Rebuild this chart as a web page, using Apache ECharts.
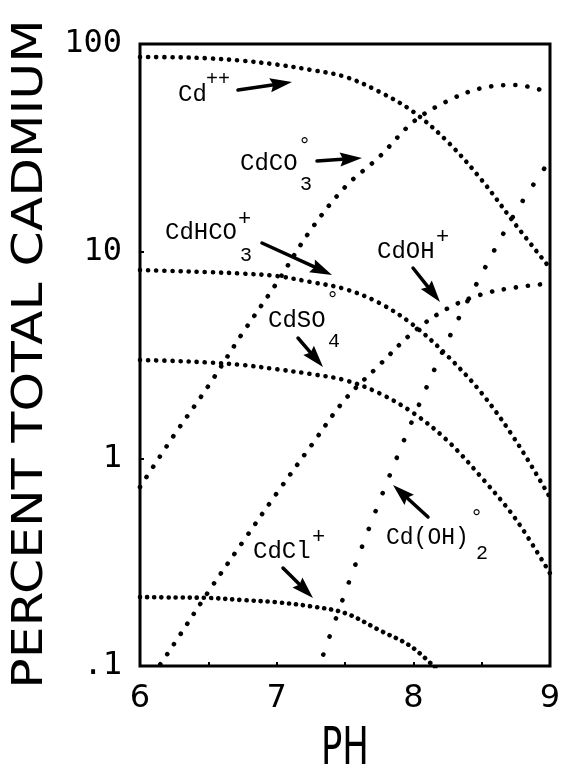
<!DOCTYPE html>
<html>
<head>
<meta charset="utf-8">
<script src="https://cdn.jsdelivr.net/npm/echarts@6/dist/echarts.min.js"></script>
<style>
html,body{margin:0;padding:0;background:#fff;}
#chart{width:566px;height:777px;}
</style>
</head>
<body>
<div id="chart"></div>
<script>
// ---- data (percent of total cadmium vs pH) ----
var pH = [6.0, 6.25, 6.5, 6.75, 7.0, 7.25, 7.5, 7.75, 8.0, 8.25, 8.5, 8.75, 9.0];
var cdFree   = [86.5, 86.3, 85.3, 83.0, 79.6, 75.0, 69.5, 58.9, 47.1, 33.8, 22.1, 13.4, 8.3];
var cdCO3    = [0.73, 1.30, 2.24, 4.03, 7.03, 12.7, 20.4, 28.5, 42.1, 53.1, 61.3, 63.4, 58.1];
var cdHCO3   = [8.13, 8.03, 7.94, 7.81, 7.60, 7.11, 6.58, 5.64, 4.41, 3.13, 2.07, 1.22, 0.65];
var cdSO4    = [2.99, 2.96, 2.91, 2.83, 2.70, 2.56, 2.39, 2.07, 1.66, 1.22, 0.81, 0.51, 0.28];
var cdCl     = [0.215, 0.214, 0.213, 0.208, 0.203, 0.194, 0.180, 0.149, 0.122, 0.085, null, null, null];
var cdOH     = [0.073, 0.128, 0.228, 0.395, 0.68, 1.15, 1.93, 2.82, 4.08, 5.3, 6.2, 6.7, 7.0];
var cdOH2    = [null, null, null, null, null, 0.076, 0.225, 0.618, 1.57, 3.69, 7.76, 15.5, 27.5];

var xTicks = [6, 7, 8, 9];
var yTickLabels = {'100': '100', '10': '10', '1': '1', '0.1': '.1'};

function pairs(arr) {
  var out = [];
  for (var i = 0; i < pH.length; i++) {
    if (arr[i] !== null) out.push([pH[i], arr[i]]);
  }
  return out;
}

var chart = echarts.init(document.getElementById('chart'), null, {renderer: 'canvas'});

function dotted(name, arr, gap) {
  return {
    name: name,
    type: 'line',
    data: pairs(arr),
    smooth: 0.35,
    showSymbol: false,
    symbol: 'none',
    clip: true,
    silent: true,
    lineStyle: {color: '#000', width: 4.6, type: [0.1, gap], cap: 'round'}
  };
}

var LBL = '"Liberation Mono", "DejaVu Sans Mono", monospace';

function txt(s, x, y, size) {
  return {type: 'text', x: x, y: y, z: 100,
    style: {text: s, font: size + 'px ' + LBL, fill: '#000', align: 'left', verticalAlign: 'middle'}};
}

function arrow(x1, y1, x2, y2) {
  var dx = x2 - x1, dy = y2 - y1;
  var len = Math.sqrt(dx * dx + dy * dy);
  var ux = dx / len, uy = dy / len;
  var hl = 22, hw = 7;
  var bx = x2 - ux * hl, by = y2 - uy * hl;
  return [
    {type: 'line', z: 100, shape: {x1: x1, y1: y1, x2: bx + ux * 2, y2: by + uy * 2},
      style: {stroke: '#000', lineWidth: 3.5, lineCap: 'round'}},
    {type: 'polygon', z: 100, shape: {points: [[x2, y2], [bx - uy * hw, by + ux * hw], [bx + ux * 3, by + uy * 3], [bx + uy * hw, by - ux * hw]]},
      style: {fill: '#000'}}
  ];
}

var graphics = [];
function add(a) { graphics = graphics.concat(a); }

// axis titles
add([{type: 'text', x: 31, y: 354, rotation: Math.PI / 2, scaleX: 1.2, z: 100,
  style: {text: 'PERCENT TOTAL CADMIUM', font: '42px "DejaVu Sans"', fill: '#000', align: 'center', verticalAlign: 'middle'}}]);
add([{type: 'text', x: 345, y: 750, scaleX: 0.68, z: 100,
  style: {text: 'PH', font: '52px "DejaVu Sans"', fill: '#000', align: 'center', verticalAlign: 'middle'}}]);

// species labels
add([txt('Cd', 178, 95, 24), txt('++', 206, 80, 20)]);
add(arrow(238, 90, 292, 82));
add([txt('CdCO', 240, 164, 24), txt('3', 300, 185, 20), txt('°', 298, 146, 22)]);
add(arrow(317, 161, 362, 158));
add([txt('CdHCO', 165, 233, 24), txt('+', 238, 219, 22), txt('3', 240, 256, 20)]);
add(arrow(262, 243, 332, 275));
add([txt('CdOH', 377, 252, 24), txt('+', 436, 237, 22)]);
add(arrow(413, 268, 440, 302));
add([txt('°', 326, 300, 22), txt('CdSO', 268, 321, 24), txt('4', 328, 342, 20)]);
add(arrow(298, 338, 323, 367));
add([txt('CdCl', 253, 552, 24), txt('+', 312, 537, 22)]);
add(arrow(283, 568, 313, 598));
add([txt('Cd(OH)', 386, 538, 23), txt('2', 476, 554, 20), txt('°', 470, 518, 22)]);
add(arrow(428, 517, 393, 485));

var option = {
  animation: false,
  backgroundColor: '#fff',
  grid: {left: 140, right: 16, top: 44, bottom: 111, show: true, borderColor: '#000', borderWidth: 3, backgroundColor: 'transparent'},
  xAxis: {
    type: 'value', min: 6, max: 9, interval: 0.5,
    axisLine: {show: false},
    axisTick: {show: true, inside: true, length: 4, lineStyle: {color: '#000', width: 2}},
    splitLine: {show: false},
    axisLabel: {
      color: '#000', fontSize: 32, fontFamily: '"DejaVu Sans"', margin: 17,
      formatter: function (v) { return xTicks.indexOf(v) >= 0 ? String(v) : ''; }
    }
  },
  yAxis: {
    type: 'log', logBase: 10, min: 0.1, max: 100,
    axisLine: {show: false},
    axisTick: {show: true, inside: true, length: 4, lineStyle: {color: '#000', width: 2}},
    splitLine: {show: false},
    axisLabel: {
      color: '#000', fontSize: 32, fontFamily: '"DejaVu Sans Mono"', margin: 18,
      formatter: function (v) {
        var k = String(Math.round(v * 10) / 10);
        return yTickLabels[k] !== undefined ? yTickLabels[k] : '';
      }
    }
  },
  series: [
    dotted('Cd++', cdFree, 8),
    dotted('CdCO3', cdCO3, 12),
    dotted('CdHCO3+', cdHCO3, 8),
    dotted('CdSO4', cdSO4, 8),
    dotted('CdCl+', cdCl, 7),
    dotted('CdOH+', cdOH, 12),
    dotted('Cd(OH)2', cdOH2, 19)
  ],
  graphic: graphics
};
chart.setOption(option);
</script>
</body>
</html>
